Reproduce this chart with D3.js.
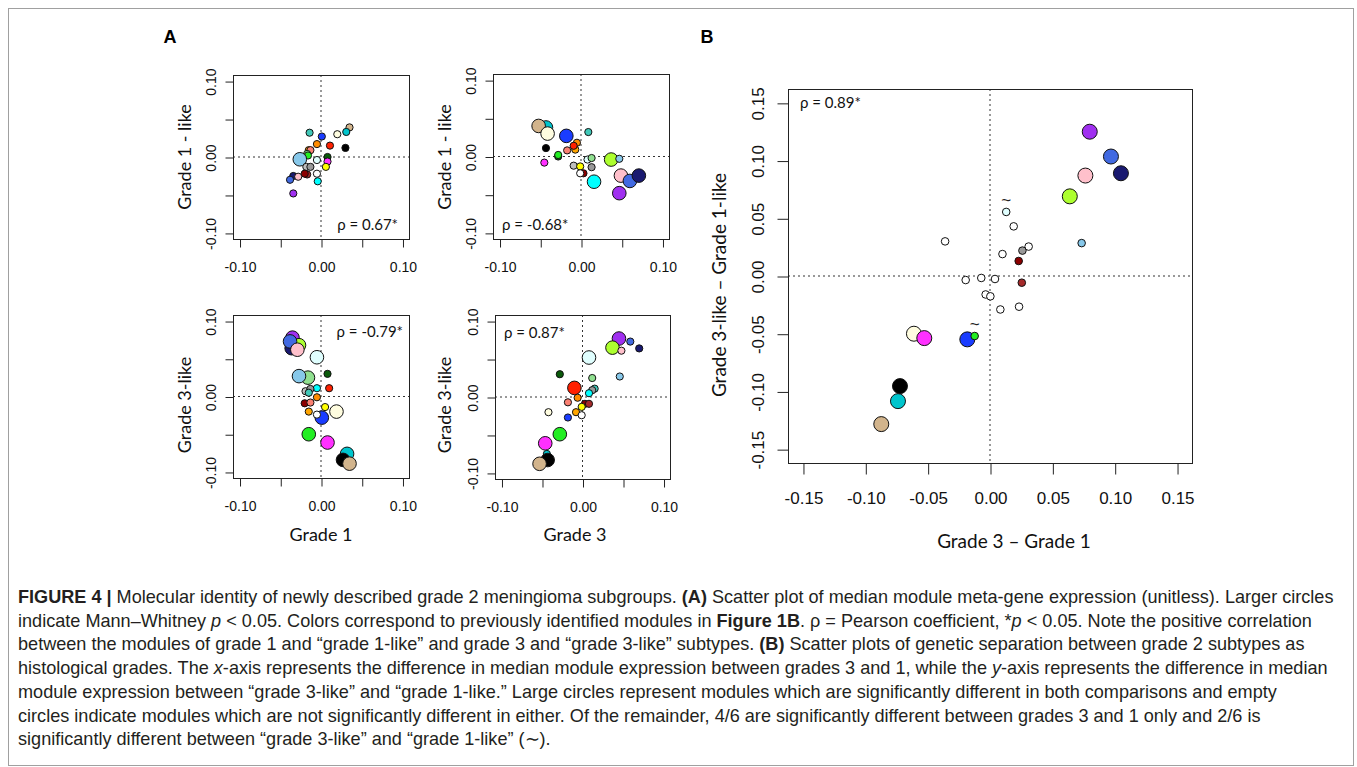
<!DOCTYPE html>
<html>
<head>
<meta charset="utf-8">
<script src="https://cdn.jsdelivr.net/npm/d3@7"></script>
<style>
  body { margin: 0; background: #fff; }
  svg text { font-family: "Liberation Sans", Arial, sans-serif; }
  .title, .rho { font-family: Lato, "Open Sans", sans-serif; }
</style>
</head>
<body>
<svg id="fig" width="1357" height="767"></svg>
<script>
// WGCNA module colours
const moduleColors = {
  tan: '#d2b48c', darkturquoise: '#00c5cd', lightyellow: '#fffde0', black: '#000000',
  turquoise: '#40c8b8', blue: '#1a3cff', darkorange: '#ff8c00', orange: '#ffa500',
  red: '#ff2000', salmon: '#fa8072', green: '#22ee22', darkgreen: '#0a5a0a',
  lightgreen: '#90e090', greenyellow: '#adff2f', skyblue: '#87c8ea', lightcyan: '#e0ffff',
  magenta: '#ff30ff', yellow: '#ffff00', grey: '#bebebe', grey60: '#999999',
  white: '#ffffff', darkred: '#8b0000', brown: '#a52a2a', midnightblue: '#191970',
  pink: '#ffc0cb', royalblue: '#4169e1', cyan: '#00ffff', purple: '#a030f0'
};

// tick values / labels
const ticksA = [-0.10, -0.05, 0, 0.05, 0.10];
const tickLabelsA = ['-0.10', '', '0.00', '', '0.10'];
const ticksB = [-0.15, -0.10, -0.05, 0, 0.05, 0.10, 0.15];
const tickLabelsB = ['-0.15', '-0.10', '-0.05', '0.00', '0.05', '0.10', '0.15'];

// [module, x, y, significant]
// A, top-left: Grade 1 vs Grade 1-like
const grade1VsG1like = [
  ['tan', 0.035, 0.039, 0], ['darkturquoise', 0.031, 0.033, 0], ['lightyellow', 0.020, 0.030, 0],
  ['black', 0.030, 0.012, 0], ['turquoise', -0.014, 0.032, 0], ['blue', 0.001, 0.027, 0],
  ['darkorange', -0.005, 0.017, 0], ['red', 0.011, 0.015, 0], ['orange', -0.015, 0.009, 0],
  ['salmon', -0.013, 0.009, 0], ['lightgreen', -0.017, 0.004, 0], ['green', -0.016, 0.002, 0],
  ['greenyellow', -0.023, 0.000, 0], ['darkgreen', 0.008, 0.000, 0], ['skyblue', -0.026, -0.003, 1],
  ['lightcyan', -0.005, -0.004, 0], ['magenta', 0.008, -0.006, 0], ['yellow', 0.006, -0.013, 0],
  ['grey', -0.018, -0.013, 0], ['grey60', -0.013, -0.013, 0], ['white', -0.005, -0.022, 0],
  ['brown', -0.017, -0.023, 0], ['darkred', -0.020, -0.022, 0], ['midnightblue', -0.034, -0.025, 0],
  ['pink', -0.028, -0.026, 0], ['royalblue', -0.038, -0.030, 0], ['cyan', -0.004, -0.032, 0],
  ['purple', -0.034, -0.048, 0]
];
// A, top-right: Grade 3 vs Grade 1-like
const grade3VsG1like = [
  ['darkturquoise', -0.043, 0.038, 1], ['tan', -0.052, 0.040, 1], ['lightyellow', -0.041, 0.030, 1],
  ['blue', -0.018, 0.027, 1], ['turquoise', 0.009, 0.032, 0], ['darkorange', -0.005, 0.018, 0],
  ['orange', -0.007, 0.009, 0], ['red', -0.009, 0.014, 0], ['salmon', -0.017, 0.008, 0],
  ['black', -0.043, 0.011, 0], ['darkgreen', -0.028, 0.000, 0], ['green', -0.028, 0.002, 0],
  ['magenta', -0.045, -0.008, 0], ['lightcyan', 0.008, -0.004, 0], ['lightgreen', 0.013, -0.002, 0],
  ['greenyellow', 0.037, -0.004, 1], ['skyblue', 0.047, -0.003, 0], ['grey', -0.009, -0.012, 0],
  ['grey60', 0.013, -0.014, 0], ['yellow', -0.001, -0.013, 0], ['darkred', 0.003, -0.022, 0],
  ['white', -0.001, -0.022, 0], ['cyan', 0.016, -0.033, 1], ['pink', 0.049, -0.025, 1],
  ['royalblue', 0.060, -0.032, 1], ['midnightblue', 0.071, -0.025, 1], ['purple', 0.047, -0.048, 1]
];
// A, bottom-left: Grade 1 vs Grade 3-like
const grade1VsG3like = [
  ['purple', -0.035, 0.078, 1], ['greenyellow', -0.027, 0.068, 1], ['midnightblue', -0.036, 0.064, 1],
  ['royalblue', -0.038, 0.073, 1], ['pink', -0.029, 0.062, 1], ['lightcyan', -0.005, 0.052, 1],
  ['lightgreen', -0.016, 0.025, 1], ['skyblue', -0.027, 0.027, 1], ['darkgreen', 0.008, 0.030, 0],
  ['cyan', -0.005, 0.011, 0], ['red', 0.010, 0.011, 0], ['grey', -0.019, 0.007, 0],
  ['grey60', -0.013, 0.010, 0], ['turquoise', -0.015, 0.005, 0], ['darkorange', -0.005, -0.001, 0],
  ['darkred', -0.020, -0.009, 0], ['salmon', -0.013, -0.008, 0], ['orange', -0.015, -0.020, 0],
  ['yellow', 0.005, -0.014, 0], ['lightyellow', 0.019, -0.020, 1], ['blue', 0.001, -0.028, 1],
  ['white', -0.005, -0.024, 0], ['green', -0.015, -0.050, 1], ['magenta', 0.008, -0.061, 1],
  ['darkturquoise', 0.032, -0.076, 1], ['black', 0.027, -0.084, 1], ['tan', 0.035, -0.089, 1]
];
// A, bottom-right: Grade 3 vs Grade 3-like
const grade3VsG3like = [
  ['purple', 0.045, 0.077, 1], ['royalblue', 0.059, 0.073, 0], ['greenyellow', 0.037, 0.065, 1],
  ['pink', 0.048, 0.061, 0], ['midnightblue', 0.070, 0.064, 0], ['lightcyan', 0.008, 0.052, 1],
  ['darkgreen', -0.028, 0.030, 0], ['lightgreen', 0.012, 0.025, 0], ['skyblue', 0.046, 0.027, 0],
  ['red', -0.010, 0.012, 1], ['turquoise', 0.015, 0.011, 0], ['grey60', 0.012, 0.009, 0],
  ['cyan', 0.008, 0.005, 0], ['darkorange', -0.006, -0.001, 0], ['salmon', -0.018, -0.007, 0],
  ['darkred', 0.003, -0.009, 0], ['brown', 0.008, -0.009, 0], ['yellow', -0.001, -0.013, 0],
  ['orange', -0.008, -0.020, 0], ['white', -0.001, -0.024, 0], ['lightyellow', -0.042, -0.020, 0],
  ['blue', -0.018, -0.027, 0], ['green', -0.028, -0.049, 1], ['magenta', -0.046, -0.061, 1],
  ['darkturquoise', -0.044, -0.075, 0], ['black', -0.043, -0.083, 1], ['tan', -0.053, -0.088, 1]
];

// B: [module, Grade 3 - Grade 1, Grade 3-like - Grade 1-like, 2 = both / 1 = one / 0 = none, tilde]
const separation = [
  ['purple', 0.080, 0.125, 2, 0], ['royalblue', 0.097, 0.1035, 2, 0], ['midnightblue', 0.105, 0.089, 2, 0],
  ['pink', 0.0765, 0.087, 2, 0], ['greenyellow', 0.064, 0.069, 2, 0], ['lightcyan', 0.013, 0.0555, 1, 1],
  ['white', 0.019, 0.043, 0, 0], ['white', -0.036, 0.030, 0, 0], ['white', 0.031, 0.0255, 0, 0],
  ['grey60', 0.026, 0.022, 1, 0], ['white', 0.010, 0.019, 0, 0], ['darkred', 0.023, 0.013, 1, 0],
  ['skyblue', 0.0735, 0.0285, 1, 0], ['white', -0.0195, -0.0035, 0, 0], ['white', -0.007, -0.0017, 0, 0],
  ['white', 0.004, -0.0026, 0, 0], ['brown', 0.0255, -0.0058, 1, 0], ['white', -0.0035, -0.016, 0, 0],
  ['white', 0.0003, -0.0176, 0, 0], ['white', 0.0083, -0.029, 0, 0], ['white', 0.0233, -0.0266, 0, 0],
  ['lightyellow', -0.061, -0.050, 2, 0], ['magenta', -0.0527, -0.0538, 2, 0], ['blue', -0.0182, -0.0549, 2, 0],
  ['green', -0.0123, -0.052, 1, 1], ['black', -0.0722, -0.0954, 2, 0], ['darkturquoise', -0.0738, -0.1084, 2, 0],
  ['tan', -0.0872, -0.1283, 2, 0]
];

const rhoLabels = ['ρ = 0.67*', 'ρ = -0.68*', 'ρ = -0.79*', 'ρ = 0.87*', 'ρ = 0.89*'];

const captionLines = [
  '**FIGURE 4 |** Molecular identity of newly described grade 2 meningioma subgroups. **(A)** Scatter plot of median module meta-gene expression (unitless). Larger circles',
  'indicate Mann–Whitney _p_ < 0.05. Colors correspond to previously identified modules in **Figure 1B**. ρ = Pearson coefficient, *_p_ < 0.05. Note the positive correlation',
  'between the modules of grade 1 and “grade 1-like” and grade 3 and “grade 3-like” subtypes. **(B)** Scatter plots of genetic separation between grade 2 subtypes as',
  'histological grades. The _x_-axis represents the difference in median module expression between grades 3 and 1, while the _y_-axis represents the difference in median',
  'module expression between “grade 3-like” and “grade 1-like.” Large circles represent modules which are significantly different in both comparisons and empty',
  'circles indicate modules which are not significantly different in either. Of the remainder, 4/6 are significantly different between grades 3 and 1 only and 2/6 is',
  'significantly different between “grade 3-like” and “grade 1-like” (∼).'
];

const svg = d3.select('#fig');

// outer frame
svg.append('rect')
  .attr('x', 8.5).attr('y', 8.5).attr('width', 1345).attr('height', 757)
  .attr('fill', 'none').attr('stroke', '#a0a0a0');

function drawPanel(o) {
  const x = d3.scaleLinear().domain(o.domain).range([o.box[0], o.box[2]]);
  const y = d3.scaleLinear().domain(o.domain).range([o.box[3], o.box[1]]);
  const g = svg.append('g');

  // dotted zero lines
  g.append('line')
    .attr('x1', x(0)).attr('x2', x(0)).attr('y1', o.box[1]).attr('y2', o.box[3])
    .attr('stroke', '#333').attr('stroke-dasharray', '2,3');
  g.append('line')
    .attr('x1', o.box[0]).attr('x2', o.box[2]).attr('y1', y(0)).attr('y2', y(0))
    .attr('stroke', '#333').attr('stroke-dasharray', '2,3');

  // points
  g.selectAll('circle.pt')
    .data(o.data)
    .join('circle')
      .attr('class', 'pt')
      .attr('cx', d => x(d[1]))
      .attr('cy', d => y(d[2]))
      .attr('r', d => o.radius[d[3]])
      .attr('fill', d => moduleColors[d[0]])
      .attr('stroke', '#111')
      .attr('stroke-width', 1);

  if (o.tilde) {
    g.selectAll('text.tilde')
      .data(o.data.filter(d => d[4]))
      .join('text')
        .attr('class', 'tilde')
        .attr('x', d => x(d[1]))
        .attr('y', d => y(d[2]) - 6)
        .attr('text-anchor', 'middle')
        .attr('font-size', 17)
        .attr('fill', '#222')
        .text('~');
  }

  // box
  g.append('rect')
    .attr('x', o.box[0] + 0.5).attr('y', o.box[1] + 0.5)
    .attr('width', o.box[2] - o.box[0]).attr('height', o.box[3] - o.box[1])
    .attr('fill', 'none').attr('stroke', '#222');

  // axes
  const xAxis = d3.axisBottom(x)
    .tickValues(o.ticks).tickFormat((d, i) => o.labels[i])
    .tickSize(o.tick).tickSizeOuter(0).tickPadding(o.xPad);
  const gx = g.append('g')
    .attr('transform', `translate(0.5,${o.box[3] + 0.5})`)
    .call(xAxis);
  gx.select('.domain').remove();
  gx.selectAll('line').attr('stroke', '#222');
  gx.selectAll('text').attr('font-size', o.fs).attr('fill', '#111')
    .attr('font-family', '"Liberation Sans", Arial, sans-serif');

  const yAxis = d3.axisLeft(y)
    .tickValues(o.ticks).tickFormat((d, i) => o.labels[i])
    .tickSize(o.tick).tickSizeOuter(0);
  const gy = g.append('g')
    .attr('transform', `translate(${o.box[0] + 0.5},0.5)`)
    .call(yAxis);
  gy.select('.domain').remove();
  gy.selectAll('line').attr('stroke', '#222');
  gy.selectAll('text')
    .attr('font-size', o.fs).attr('fill', '#111')
    .attr('font-family', '"Liberation Sans", Arial, sans-serif')
    .attr('transform', 'rotate(-90)')
    .attr('x', 0).attr('y', -o.yPad).attr('dy', 0)
    .attr('text-anchor', 'middle');

  // axis titles
  if (o.xTitle) {
    g.append('text').attr('class', 'title')
      .attr('x', o.xTitle[1]).attr('y', o.xTitle[2])
      .attr('text-anchor', 'middle').attr('font-size', o.titleFs).attr('fill', '#111')
      .text(o.xTitle[0]);
  }
  if (o.yTitle) {
    g.append('text').attr('class', 'title')
      .attr('transform', `translate(${o.yTitle[1]},${o.yTitle[2]}) rotate(-90)`)
      .attr('text-anchor', 'middle').attr('font-size', o.titleFs).attr('fill', '#111')
      .text(o.yTitle[0]);
  }

  // correlation
  g.append('text').attr('class', 'rho')
    .attr('x', o.rho[1]).attr('y', o.rho[2])
    .attr('text-anchor', o.rho[3]).attr('font-size', 15).attr('fill', '#111')
    .text(o.rho[0]);
}

const aStyle = {
  domain: [-0.108, 0.108], ticks: ticksA, labels: tickLabelsA,
  tick: 8, xPad: 15, yPad: 18, fs: 14, titleFs: 18, radius: [3.6, 6.8]
};

drawPanel(Object.assign({}, aStyle, {
  box: [233, 75, 409, 239], data: grade1VsG1like,
  yTitle: ['Grade 1 - like', 191, 157], rho: [rhoLabels[0], 398, 230, 'end']
}));
drawPanel(Object.assign({}, aStyle, {
  box: [493, 74, 669, 239], data: grade3VsG1like,
  yTitle: ['Grade 1 - like', 451, 157], rho: [rhoLabels[1], 502, 230, 'start']
}));
drawPanel(Object.assign({}, aStyle, {
  box: [233, 315, 409, 478], data: grade1VsG3like,
  xTitle: ['Grade 1', 321, 541], yTitle: ['Grade 3-like', 191, 405], rho: [rhoLabels[2], 403, 337, 'end']
}));
drawPanel(Object.assign({}, aStyle, {
  box: [495, 315, 670, 479], data: grade3VsG3like,
  xTitle: ['Grade 3', 575, 541], yTitle: ['Grade 3-like', 451, 405], rho: [rhoLabels[3], 504, 338, 'start']
}));
drawPanel({
  domain: [-0.162, 0.162], ticks: ticksB, labels: tickLabelsB,
  tick: 11, xPad: 17, yPad: 25, fs: 17, titleFs: 19, radius: [3.8, 3.8, 7.5],
  box: [788, 89, 1192, 463], data: separation, tilde: true,
  xTitle: ['Grade 3 – Grade 1', 1014, 548], yTitle: ['Grade 3-like – Grade 1-like', 726, 285],
  rho: [rhoLabels[4], 800, 108, 'start']
});

// panel letters
svg.append('text').attr('x', 170).attr('y', 43).attr('font-size', 18)
  .attr('font-weight', 'bold').attr('text-anchor', 'middle').text('A');
svg.append('text').attr('x', 707).attr('y', 43).attr('font-size', 18)
  .attr('font-weight', 'bold').attr('text-anchor', 'middle').text('B');

// caption
const cap = svg.append('g').attr('fill', '#231f20').attr('font-size', 18.1);
captionLines.forEach((line, i) => {
  const t = cap.append('text').attr('x', 18).attr('y', 603 + i * 23.7);
  line.split(/(\*\*[^*]+\*\*|_[^_]+_)/).filter(s => s.length).forEach(seg => {
    const ts = t.append('tspan');
    if (seg.startsWith('**')) ts.attr('font-weight', 'bold').text(seg.slice(2, -2));
    else if (seg.startsWith('_')) ts.attr('font-style', 'italic').text(seg.slice(1, -1));
    else ts.text(seg);
  });
});
</script>
</body>
</html>
